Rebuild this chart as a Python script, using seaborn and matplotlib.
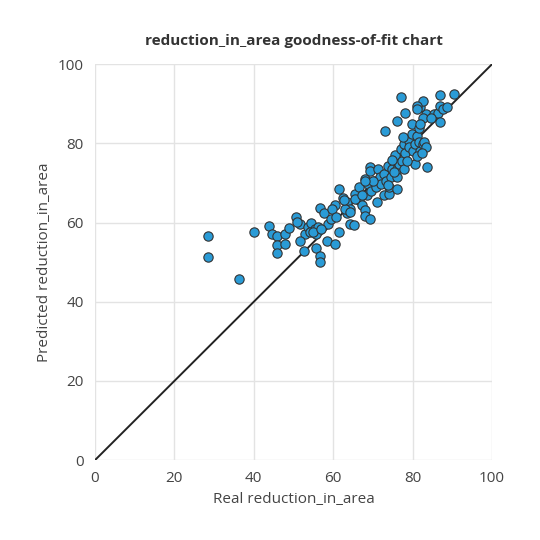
import matplotlib
matplotlib.use("Agg")
import matplotlib.pyplot as plt
import seaborn as sns
import pandas as pd

real = [28.4,28.4,36.2,40,43.9,44.7,45.8,45.8,47.8,47.8,48.8,45.8,50.7,51.7,50.9,52.9,51.7,52.7,53.7,54.5,55.3,55.6,54.1,56.2,55.6,56.6,56.6,56.6,57.6,58.4,58.6,59.4,60.5,60.5,59.7,61.5,61.5,62.4,63.5,63.5,64.3,65.3,64.3,65.4,66.4,66.4,67.2,68.0,68.0,69.2,68.4,68.0,68.8,69.2,69.2,69.6,70.4,70.8,71.3,71.1,71.7,72.1,72.9,73.3,72.9,73.7,74.1,74.1,74.5,74.9,75.3,75.7,76.0,76.2,76.2,76.6,77.0,77.4,77.8,77.8,78.2,79.0,79.0,79.8,79.8,80.2,80.6,80.6,81.0,81.5,81.7,81.9,82.7,82.9,83.5,83.5,83.7,81.9,82.7,81.0,81.1,82.7,85.5,86.4,86.8,86.8,86.8,87.6,88.6,90.4,77.0,78.0,76.0,73.1,65.6,67.2,70.0,73.7,75.3,78.6,81.1,82.5,63.1,60.7,54.8,57.0,62.7,64.3,68.0,74.9,77.6,81.9,84.7]
pred = [56.7,51.2,45.8,57.6,59.1,57.1,56.6,54.3,54.7,57.2,58.7,52.2,61.3,59.7,60.2,57.1,55.4,52.7,58.9,59.9,58.5,57.1,57.7,58.9,53.7,51.5,50.1,63.8,62.3,55.4,59.7,61.0,54.5,64.4,63.5,57.7,68.5,66.2,65.2,62.3,59.7,59.3,63.5,67.3,69.0,65.6,64.4,63.1,61.6,61.0,66.9,71.0,69.8,74.0,73.1,68.1,70.6,69.0,73.6,65.2,71.5,69.8,72.3,70.6,66.9,74.4,67.3,69.0,71.5,73.6,75.7,77.0,71.5,68.5,73.6,74.8,78.6,75.6,73.6,79.8,77.7,80.7,79.0,84.9,82.3,78.2,74.8,79.8,81.9,80.3,84.0,78.2,79.8,80.4,79.0,87.4,74.1,89.2,90.7,89.5,88.6,86.5,87.4,87.8,89.5,92.2,85.3,88.7,89.1,92.6,91.7,87.7,85.7,83.2,66.0,66.9,70.6,69.4,72.8,75.6,76.9,77.7,63.5,61.4,57.7,58.5,65.6,62.7,70.6,75.7,81.5,85.0,86.5]
df = pd.DataFrame({"real": real, "pred": pred})

sns.set_theme(style="whitegrid")
plt.rcParams['font.family'] = ['Open Sans', 'DejaVu Sans']
fig = plt.figure(figsize=(5.4, 5.4), dpi=100)
ax = fig.add_axes([0.176, 0.148, 0.735, 0.733])
ax.plot([0, 100], [0, 100], color="#222222", lw=1.4, zorder=1)
sns.scatterplot(data=df, x="real", y="pred", ax=ax, color="#2a9bd6", edgecolor="#333333",
                linewidth=0.8, s=45, zorder=3)
ax.set_xlim(0, 100); ax.set_ylim(0, 100)
ax.set_xticks([0, 20, 40, 60, 80, 100]); ax.set_yticks([0, 20, 40, 60, 80, 100])
ax.grid(color="#e3e3e3", lw=1)
for s in ax.spines.values():
    s.set_visible(False)
ax.tick_params(labelsize=11, colors="#444444", pad=2)
ax.set_xlabel("Real reduction_in_area", fontsize=11, color="#444444")
ax.set_ylabel("Predicted reduction_in_area", fontsize=11, color="#444444")
ax.set_title("reduction_in_area goodness-of-fit chart", fontsize=11, fontweight="bold", color="#333333", pad=14)
fig.savefig("out.png", dpi=100)
